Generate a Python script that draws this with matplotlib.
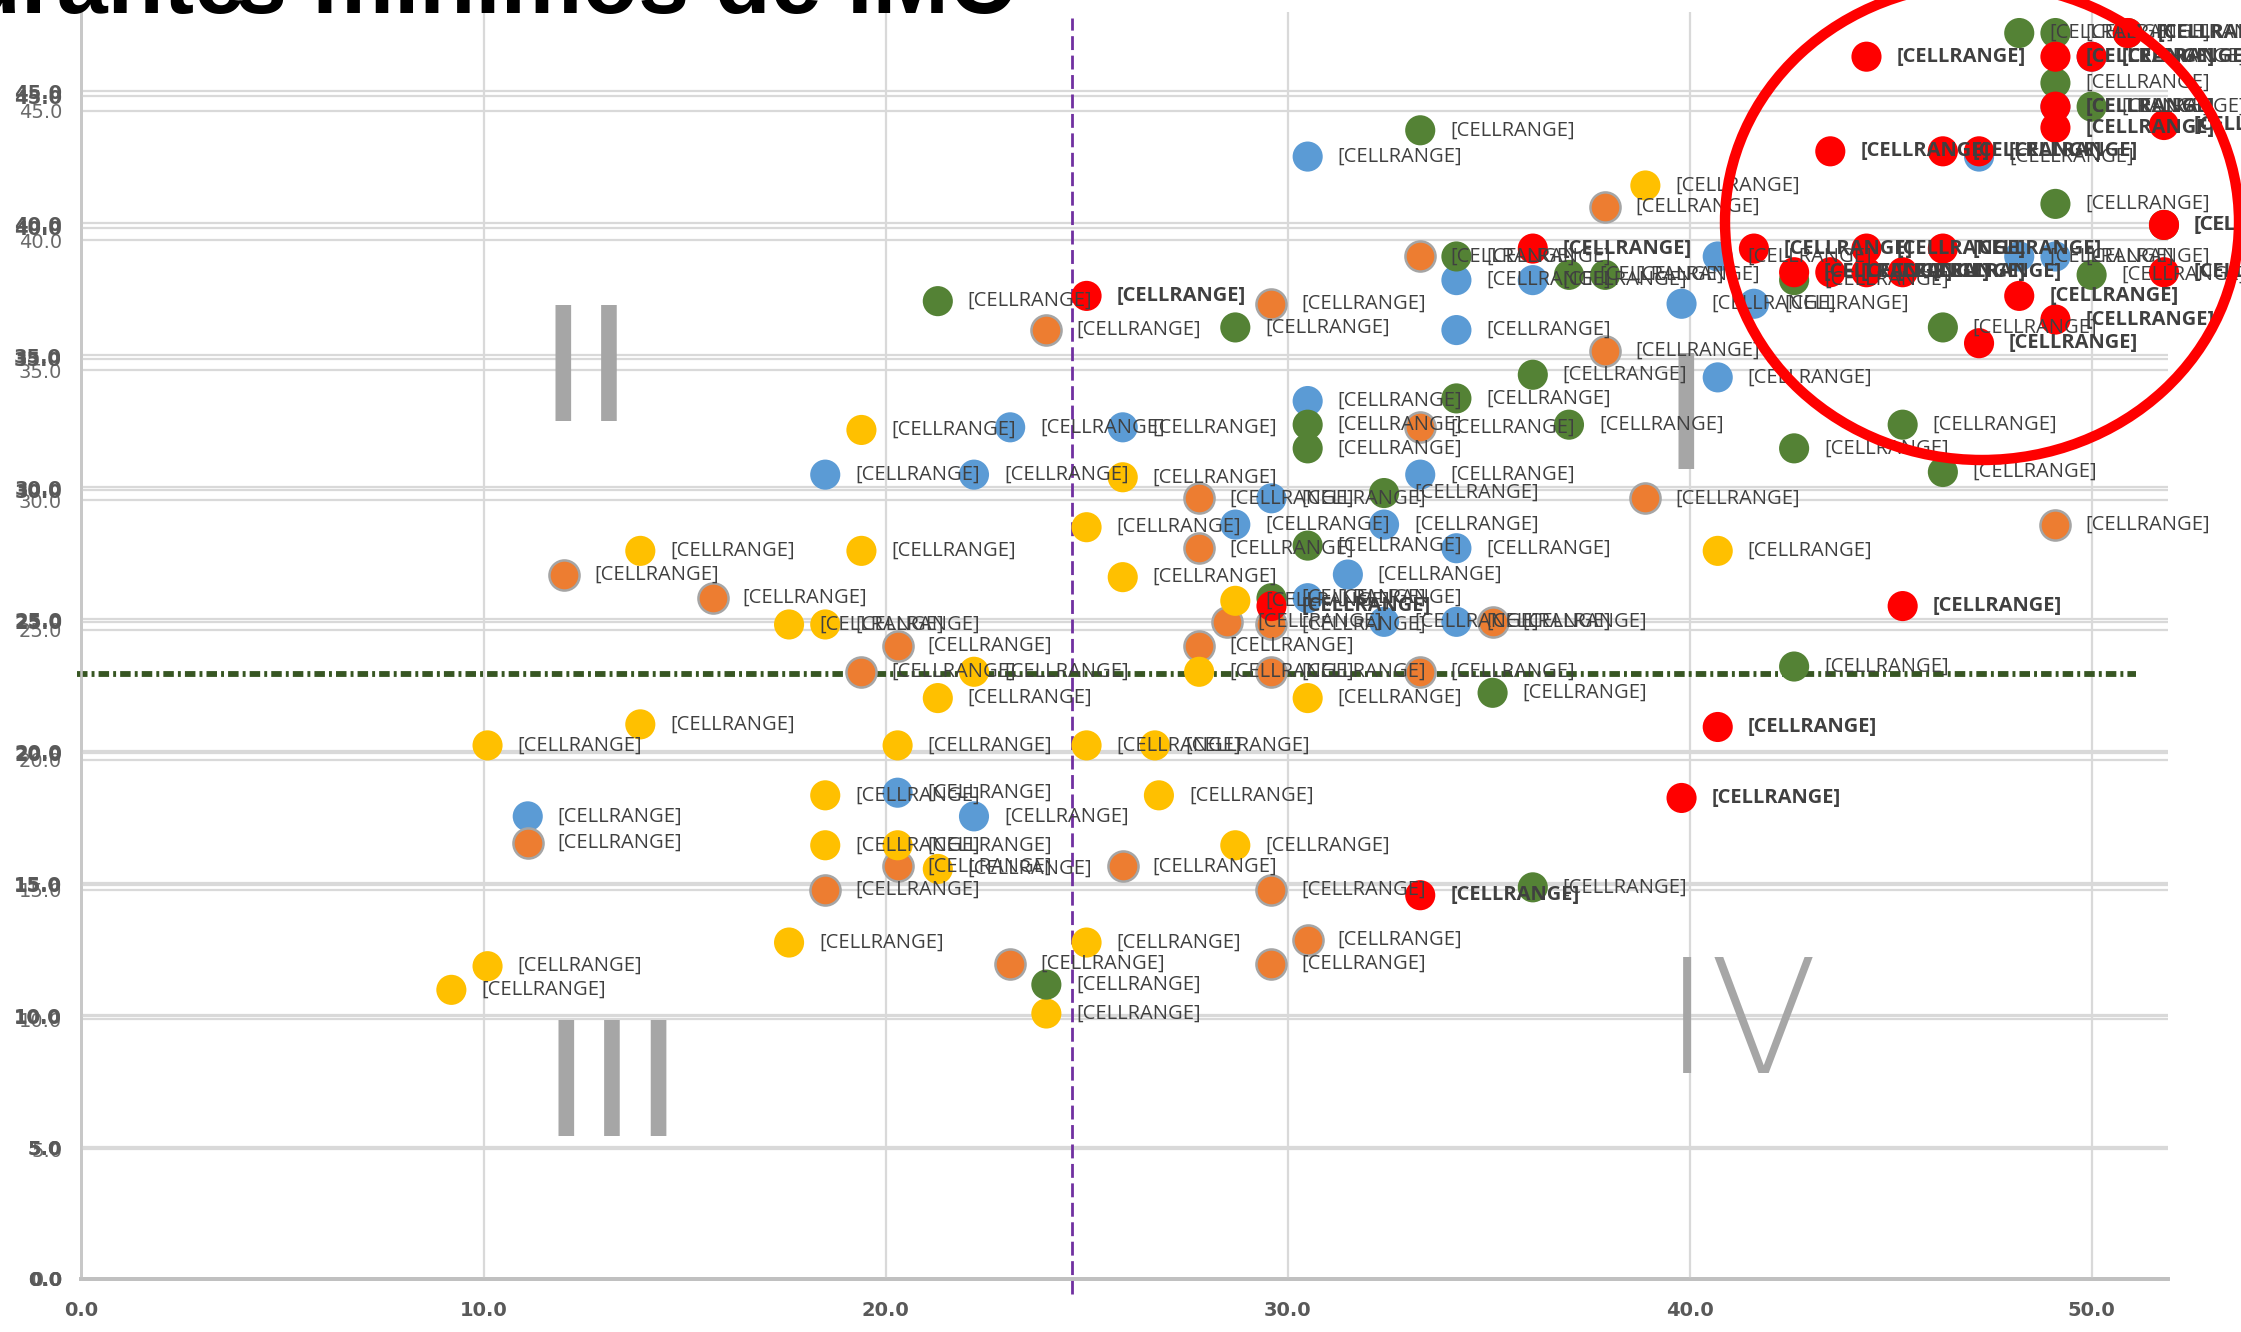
import matplotlib
matplotlib.use("Agg")
import matplotlib.pyplot as plt
from matplotlib.patches import Ellipse

# ---------------- data ----------------
label_text = "[CELLRANGE]"
x_ticks = [0, 10, 20, 30, 40, 50]
y_ticks = [0, 5, 10, 15, 20, 25, 30, 35, 40, 45]

blue_x = [18.5, 22.2, 23.1, 25.9, 20.3, 22.2, 11.1, 28.7, 29.6, 30.5, 30.5, 30.5, 31.5, 32.4, 32.4,
          33.3, 34.2, 34.2, 34.2, 34.2, 36.1, 39.8, 40.7, 40.7, 41.6, 47.2, 48.2, 49.1, 49.1, 50.0]
blue_y = [30.6, 30.6, 32.4, 32.4, 18.5, 17.6, 17.6, 28.7, 29.7, 42.7, 33.4, 25.9, 26.8, 28.7, 25.0,
          30.6, 38.0, 36.1, 27.8, 25.0, 38.0, 37.1, 38.9, 34.3, 37.1, 42.7, 38.9, 38.9, 44.6, 46.5]

orange_x = [12.0, 15.7, 19.4, 20.3, 11.1, 18.5, 20.3, 23.1, 25.9, 24.0, 27.8, 27.8, 28.5, 27.8,
            29.6, 29.6, 29.6, 29.6, 30.5, 29.6, 33.3, 33.3, 33.3, 35.1, 37.9, 37.9, 38.9, 49.1]
orange_y = [26.8, 25.9, 23.1, 24.1, 16.6, 14.8, 15.7, 12.0, 15.7, 36.1, 29.7, 27.8, 25.0, 24.1,
            37.1, 24.9, 23.1, 14.8, 12.9, 12.0, 38.9, 32.4, 23.1, 25.0, 40.8, 35.3, 29.7, 28.7]

yellow_x = [19.4, 13.9, 19.4, 17.6, 18.5, 13.9, 10.1, 20.3, 21.3, 22.2, 18.5, 18.5, 20.3, 21.3,
            17.6, 10.1, 9.2, 25.0, 26.7, 25.0, 24.0, 25.0, 25.9, 25.9, 26.8, 27.8, 28.7, 28.7,
            30.5, 38.9, 40.7]
yellow_y = [32.3, 27.7, 27.7, 24.9, 24.9, 21.1, 20.3, 20.3, 22.1, 23.1, 18.4, 16.5, 16.5, 15.6,
            12.8, 11.9, 11.0, 20.3, 20.3, 12.8, 10.1, 28.6, 26.7, 30.5, 18.4, 23.1, 25.8, 16.5,
            22.1, 41.6, 27.7]

green_x = [21.3, 28.7, 30.5, 30.5, 30.5, 29.6, 32.4, 33.3, 34.2, 34.2, 36.1, 37.0, 37.0, 37.9,
           35.1, 36.1, 24.0, 42.6, 42.6, 45.3, 46.3, 46.3, 49.1, 48.2, 49.1, 49.1, 50.0, 50.0,
           51.8, 50.9, 42.6]
green_y = [37.2, 36.2, 32.5, 31.6, 27.9, 25.9, 29.9, 43.7, 38.9, 33.5, 34.4, 32.5, 38.2, 38.2,
           22.3, 14.9, 11.2, 31.6, 23.3, 32.5, 36.2, 30.7, 40.9, 47.4, 47.4, 45.5, 44.6, 38.2,
           40.1, 47.4, 38.0]

red_x = [25.0, 29.6, 33.3, 36.1, 39.8, 40.7, 45.3, 41.6, 42.6, 43.5, 44.4, 45.3, 44.4, 46.3,
         43.5, 46.3, 47.2, 44.4, 49.1, 50.0, 49.1, 49.1, 51.8, 50.9, 51.8, 51.8, 48.2, 49.1, 47.2]
red_y = [37.4, 25.6, 14.6, 39.2, 18.3, 21.0, 25.6, 39.2, 38.3, 38.3, 38.3, 38.3, 39.2, 39.2,
         42.9, 42.9, 42.9, 46.5, 46.5, 46.5, 44.6, 43.8, 43.9, 47.4, 40.1, 38.3, 37.4, 36.5, 35.6]

vline_x = 24.65
hline_y = 23.0

quadrants = ["I", "II", "III", "IV"]
quadrant_xy = [(39.9, 32.5), (12.55, 34.3), (13.2, 7.1), (41.3, 9.5)]

title_left = "Durante"
title_right = "s mínimos de IMC"

# ---------------- figure ----------------
W, H = 2241, 1332
fig = plt.figure(figsize=(W / 100, H / 100), dpi=100)
fig.patch.set_facecolor("white")

left, right = 81.5 / W, 2168 / W
bottom, top = (H - 1279) / H, (H - 12) / H
pos = [left, bottom, right - left, top - bottom]

grid_c = "#D9D9D9"
tick_c = "#595959"
XMAX = 51.9


def style_axes(a, ymax, show_xlabels, ylab_kw):
    for s in ["top", "right"]:
        a.spines[s].set_visible(False)
    a.spines["left"].set_color("#C8C8C8")
    a.spines["left"].set_linewidth(1.8)
    a.spines["bottom"].set_color("#C0C0C0")
    a.spines["bottom"].set_linewidth(2.6)
    a.set_xlim(0, XMAX)
    a.set_ylim(0, ymax)
    a.set_xticks(x_ticks)
    a.set_yticks(y_ticks)
    a.set_yticklabels([f"{v:.1f}" for v in y_ticks], **ylab_kw)
    if show_xlabels:
        a.set_xticklabels([f"{v:.1f}" for v in x_ticks], color=tick_c, fontsize=14,
                          fontweight="bold")
    else:
        a.set_xticklabels([])
    a.tick_params(axis="both", length=0)
    a.tick_params(axis="y", pad=14)
    a.tick_params(axis="x", pad=16)
    a.grid(axis="y", color=grid_c, lw=1.6, zorder=0)
    a.set_axisbelow(True)


axB = fig.add_axes(pos)
style_axes(axB, 48.8, False, dict(color="#6A6A6A", fontsize=14))
axB.set_facecolor("white")

axA2 = fig.add_axes(pos)
style_axes(axA2, 48.0, False, dict(color=tick_c, fontsize=14, fontweight="bold"))
axA2.set_facecolor("none")

ax = fig.add_axes(pos)
style_axes(ax, 48.2, True, dict(color=tick_c, fontsize=14, fontweight="bold"))
ax.set_facecolor("none")
ax.grid(axis="x", color=grid_c, lw=1.6, zorder=0)

# quadrant numerals
for q, (qx, qy) in zip(quadrants, quadrant_xy):
    w = "light" if q == "IV" else "normal"
    ax.text(qx, qy, q, ha="center", va="center", fontsize=114, color="#A6A6A6",
            family="DejaVu Sans", fontweight=w, zorder=1)

# reference lines
ax.axvline(vline_x, ymin=-0.012, ymax=0.995, color="#7030A0", lw=2.0,
           ls=(0, (5, 2)), zorder=2, clip_on=False)
ax.plot([-0.1, 51.1], [hline_y, hline_y], color="#375623", lw=4.2,
        dashes=(1.8, 0.7, 0.5, 0.7), zorder=2, clip_on=False)

series = [
    (blue_x, blue_y, "#5B9BD5", "none", False),
    (orange_x, orange_y, "#ED7D31", "#A5A5A5", False),
    (yellow_x, yellow_y, "#FFC000", "none", False),
    (green_x, green_y, "#548235", "none", False),
    (red_x, red_y, "#FF0000", "none", True),
]

z = 3
for xs, ys, col, ec, bold in series:
    ax.scatter(xs, ys, s=470, color=col, edgecolors=ec, linewidths=1.8 if ec != "none" else 0,
               zorder=z, clip_on=False)
    z += 0.1

for xs, ys, col, ec, bold in series:
    for xv, yv in zip(xs, ys):
        ax.annotate(label_text, (xv, yv), xytext=(30, 0), textcoords="offset pixels",
                    ha="left", va="center", fontsize=14.5, color="#404040",
                    family="Open Sans", fontweight="bold" if bold else "normal",
                    zorder=10, annotation_clip=False)

# red highlight ellipse
fig.add_artist(Ellipse((1982 / W, (H - 222) / H), 514 / W, 476 / H, transform=fig.transFigure,
                       fill=False, ec="#FF0000", lw=7.5, zorder=20))

# clipped title
fig.text(246 / W, (H - 13) / H, title_left, ha="right", va="baseline", fontsize=66,
         fontweight="bold", family="Liberation Sans", color="black")
fig.text(1015 / W, (H - 13) / H, title_right, ha="right", va="baseline", fontsize=66,
         fontweight="bold", family="Liberation Sans", color="black")

fig.savefig("out.png", dpi=100)
